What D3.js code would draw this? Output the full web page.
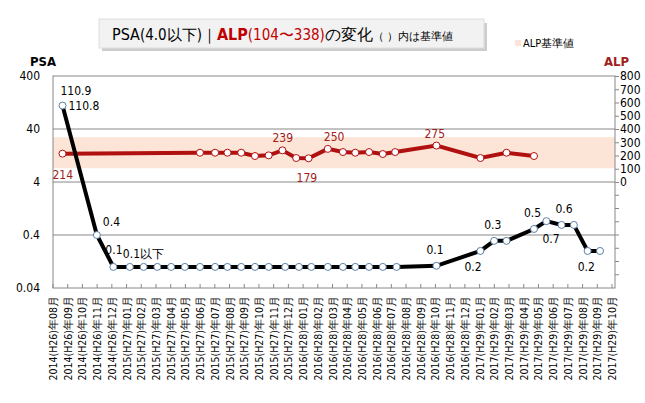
<!DOCTYPE html><html><head><meta charset="utf-8">
<script src="https://cdn.jsdelivr.net/npm/d3@7"></script>
<style>body{margin:0;background:#fff}text{font-family:"Liberation Sans Narrow","DejaVu Sans Condensed",sans-serif}</style>
</head><body><svg id="c" width="645" height="403"></svg>
<script>
const months=[];
const yrs=[[2014,"H26",8,12],[2015,"H27",1,12],[2016,"H28",1,12],[2017,"H29",1,10]];
yrs.forEach(([y,h,a,b])=>{for(let m=a;m<=b;m++)months.push(`${y}(${h})年${String(m).padStart(2,"0")}月`);});
const psaT=[0,2.5,3.7,4.9,5.9,6.9,7.9,8.9,10,11.1,12,13,14,15,16.2,17.2,18.1,19.3,20.4,21.3,22.3,23.3,24.3,27.2,30.4,31.4,32.3,34.3,35.2,36.3,37.2,38.2,39.1];
const psaV=[110.8,0.4,0.1,0.1,0.1,0.1,0.1,0.1,0.1,0.1,0.1,0.1,0.1,0.1,0.1,0.1,0.1,0.1,0.1,0.1,0.1,0.1,0.1,0.105,0.2,0.31,0.31,0.52,0.73,0.62,0.62,0.2,0.2];
const alpT=[0,10,11.1,12,13,14,15,16,17,17.9,19.3,20.4,21.3,22.3,23.3,24.2,27.2,30.4,32.3,34.3];
const alpV=[214,221,221,221,221,196,201,239,181,179,250,226,221,226,211,226,275,181,221,196];
const psaTicks=[0.04,0.4,4,40,400];
const alpTicks=[0,100,200,300,400,500,600,700,800];
const alpRange=[104,338];
const svg=d3.select("#c");
const L=53,R=615,T=76,B=288;
const y=d3.scaleLog().domain([0.04,400]).range([B,T]);
const y2=d3.scaleLinear().domain([0,800]).range([y(4),T]);
const xc=d3.scalePoint().domain(months).range([L,612]);
const xt=d3.scaleLinear().domain([0,39.1]).range([62.5,600]);
svg.append("rect").attr("x",L).attr("width",R-L).attr("y",y2(alpRange[1])).attr("height",y2(alpRange[0])-y2(alpRange[1])).attr("fill","#fce4d6");
psaTicks.slice(1,4).forEach(v=>svg.append("line").attr("x1",L).attr("x2",R).attr("y1",y(v)).attr("y2",y(v)).attr("stroke","#888"));
svg.append("rect").attr("x",L).attr("y",T).attr("width",R-L).attr("height",B-T).attr("fill","none").attr("stroke","#888");
psaTicks.forEach(v=>svg.append("text").attr("x",40).attr("y",y(v)+4).attr("text-anchor","end").attr("font-size",12).text(v));
const ra=svg.append("g").attr("transform",`translate(${R},0)`).call(d3.axisRight(y2).tickValues(alpTicks).tickSize(4));
ra.select(".domain").remove();ra.selectAll("line").attr("stroke","#888");ra.selectAll("text").attr("font-size",12).attr("x",5).attr("font-family","Liberation Sans Narrow");
for(let v=-100;v>=-800;v-=100){if(y2(v)<B)svg.append("line").attr("x1",R).attr("x2",R+4).attr("y1",y2(v)).attr("y2",y2(v)).attr("stroke","#888");}
months.forEach(m=>svg.append("line").attr("x1",xc(m)).attr("x2",xc(m)).attr("y1",B).attr("y2",B-4).attr("stroke","#888"));
months.forEach(m=>svg.append("text").attr("transform",`translate(${xc(m)+4},296) rotate(-90)`).attr("text-anchor","end").attr("font-size",10.5).attr("font-family","DejaVu Sans Condensed").text(m));
const alpD=alpT.map((t,i)=>[t,alpV[i]]);
svg.append("path").datum(alpD).attr("d",d3.line(d=>xt(d[0]),d=>y2(d[1]))).attr("fill","none").attr("stroke","#b01010").attr("stroke-width",4);
svg.selectAll(".ap").data(alpD).join("circle").attr("cx",d=>xt(d[0])).attr("cy",d=>y2(d[1])).attr("r",3.5).attr("fill","#fff").attr("stroke","#b01010");
const psaD=psaT.map((t,i)=>[t,psaV[i]]);
svg.append("path").datum(psaD).attr("d",d3.line(d=>xt(d[0]),d=>y(d[1]))).attr("fill","none").attr("stroke","#000").attr("stroke-width",4);
svg.selectAll(".pp").data(psaD).join("circle").attr("cx",d=>xt(d[0])).attr("cy",d=>y(d[1])).attr("r",3.5).attr("fill","#fff").attr("stroke","#5b7fa8");
const lab=(t,v,s,dx,dy,c,scale)=>svg.append("text").attr("x",xt(t)+dx).attr("y",(scale||y)(v)+dy).attr("font-size",12).attr("fill",c||"#000").text(s);
lab(0,psaV[0],"110.9",-2,-11);lab(0,psaV[0],"110.8",6,4);
lab(2.5,0.4,"0.4",6,-9);lab(3.7,0.1,"0.1",-8,-13);lab(4.9,0.1,"0.1以下",-7,-9);
lab(27.2,0.105,"0.1",-10,-12);lab(30.4,0.2,"0.2",-16,20);lab(31.4,0.31,"0.3",-10,-12);
lab(34.3,0.52,"0.5",-10,-12);lab(35.2,0.73,"0.7",-4,22);lab(36.3,0.62,"0.6",-6,-12);lab(38.2,0.2,"0.2",-10,20);
const rc="#a02020";
lab(0,214,"214",-10,25,rc,y2);lab(16,239,"239",-10,-8,rc,y2);lab(17.9,179,"179",-12,24,rc,y2);lab(19.3,250,"250",-4,-8,rc,y2);lab(27.2,275,"275",-12,-8,rc,y2);
svg.append("text").attr("x",30).attr("y",66).attr("font-size",13).attr("font-weight","bold").attr("font-family","Liberation Sans").text("PSA");
svg.append("text").attr("x",604).attr("y",66).attr("font-size",13).attr("font-weight","bold").attr("fill",rc).attr("font-family","Liberation Sans").text("ALP");
svg.append("rect").attr("x",102).attr("y",23).attr("width",385).attr("height",28).attr("fill","#999").attr("opacity",0.5);
svg.append("rect").attr("x",99).attr("y",19).attr("width",385).attr("height",29).attr("fill","#f2f2f2").attr("stroke","#ddd");
const tt=svg.append("text").attr("x",112).attr("y",40).attr("font-size",16).attr("font-family","Noto Sans CJK JP");
tt.append("tspan").attr("font-weight","500").text("PSA");
tt.append("tspan").attr("font-size",15).attr("font-weight","300").text("(4.0以下)｜");
tt.append("tspan").attr("font-weight","bold").attr("fill","#c00000").text("ALP");
tt.append("tspan").attr("font-size",15).attr("font-weight","300").attr("fill","#c00000").text("(104〜338)");
tt.append("tspan").attr("font-size",16).text("の変化");
tt.append("tspan").attr("font-size",11).text("（ ）内は基準値");
svg.append("rect").attr("x",515).attr("y",40).attr("width",6).attr("height",6).attr("fill","#fce4d6");
svg.append("text").attr("x",523).attr("y",47).attr("font-size",11).attr("font-family","Noto Sans CJK JP").text("ALP基準値");
</script></body></html>
